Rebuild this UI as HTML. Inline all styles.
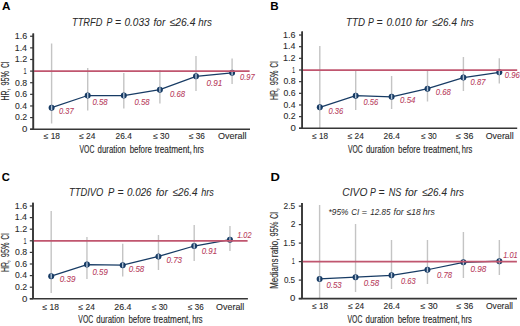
<!DOCTYPE html>
<html><head><meta charset="utf-8"><style>
html,body{margin:0;padding:0;background:#fff;overflow:hidden;}
svg{display:block;}
text{font-family:"Liberation Sans", sans-serif;}
</style></head><body>
<svg width="520" height="326" viewBox="0 0 520 326">
<rect width="520" height="326" fill="#fff"/>
<text x="2.05" y="10.20" font-size="11.6" text-anchor="start" font-weight="bold" font-style="normal" fill="#000" textLength="8.43" lengthAdjust="spacingAndGlyphs">A</text>
<text x="72.07" y="25.60" font-size="11.0" text-anchor="start" font-weight="normal" font-style="italic" fill="#2a2a2a" stroke="#2a2a2a" stroke-width="0.05" textLength="30.33" lengthAdjust="spacingAndGlyphs">TTRFD</text>
<text x="106.48" y="25.60" font-size="11.0" text-anchor="start" font-weight="normal" font-style="italic" fill="#2a2a2a" stroke="#2a2a2a" stroke-width="0.05" textLength="5.84" lengthAdjust="spacingAndGlyphs">P</text>
<text x="115.07" y="25.60" font-size="11.0" text-anchor="start" font-weight="normal" font-style="italic" fill="#2a2a2a" stroke="#2a2a2a" stroke-width="0.05" textLength="6.06" lengthAdjust="spacingAndGlyphs">=</text>
<text x="124.47" y="25.60" font-size="11.0" text-anchor="start" font-weight="normal" font-style="italic" fill="#2a2a2a" stroke="#2a2a2a" stroke-width="0.05" textLength="25.20" lengthAdjust="spacingAndGlyphs">0.033</text>
<text x="153.58" y="25.60" font-size="11.0" text-anchor="start" font-weight="normal" font-style="italic" fill="#2a2a2a" stroke="#2a2a2a" stroke-width="0.05" textLength="11.67" lengthAdjust="spacingAndGlyphs">for</text>
<text x="169.59" y="25.60" font-size="11.0" text-anchor="start" font-weight="normal" font-style="italic" fill="#2a2a2a" stroke="#2a2a2a" stroke-width="0.05" textLength="25.90" lengthAdjust="spacingAndGlyphs">≤26.4</text>
<text x="198.23" y="25.60" font-size="11.0" text-anchor="start" font-weight="normal" font-style="italic" fill="#2a2a2a" stroke="#2a2a2a" stroke-width="0.05" textLength="13.56" lengthAdjust="spacingAndGlyphs">hrs</text>
<line x1="51.60" y1="43.50" x2="51.60" y2="123.50" stroke="#c4c4c4" stroke-width="1.4"/>
<line x1="87.70" y1="68.00" x2="87.70" y2="110.40" stroke="#c4c4c4" stroke-width="1.4"/>
<line x1="123.80" y1="73.00" x2="123.80" y2="108.40" stroke="#c4c4c4" stroke-width="1.4"/>
<line x1="159.90" y1="70.00" x2="159.90" y2="103.50" stroke="#c4c4c4" stroke-width="1.4"/>
<line x1="196.00" y1="56.00" x2="196.00" y2="91.00" stroke="#c4c4c4" stroke-width="1.4"/>
<line x1="232.10" y1="58.40" x2="232.10" y2="84.00" stroke="#c4c4c4" stroke-width="1.4"/>
<line x1="33.30" y1="33.50" x2="33.30" y2="129.20" stroke="#363636" stroke-width="1.6"/>
<line x1="30.10" y1="129.20" x2="250.00" y2="129.20" stroke="#363636" stroke-width="1.6"/>
<line x1="30.10" y1="129.20" x2="33.30" y2="129.20" stroke="#363636" stroke-width="1.2"/>
<text x="22.01" y="132.00" font-size="8.4" text-anchor="start" font-weight="normal" font-style="normal" fill="#2a2a2a" stroke="#2a2a2a" stroke-width="0.08" textLength="5.36" lengthAdjust="spacingAndGlyphs">0</text>
<line x1="30.10" y1="117.58" x2="33.30" y2="117.58" stroke="#363636" stroke-width="1.2"/>
<text x="15.05" y="120.38" font-size="8.4" text-anchor="start" font-weight="normal" font-style="normal" fill="#2a2a2a" stroke="#2a2a2a" stroke-width="0.08" textLength="12.19" lengthAdjust="spacingAndGlyphs">0.2</text>
<line x1="30.10" y1="105.96" x2="33.30" y2="105.96" stroke="#363636" stroke-width="1.2"/>
<text x="15.06" y="108.76" font-size="8.4" text-anchor="start" font-weight="normal" font-style="normal" fill="#2a2a2a" stroke="#2a2a2a" stroke-width="0.08" textLength="11.98" lengthAdjust="spacingAndGlyphs">0.4</text>
<line x1="30.10" y1="94.34" x2="33.30" y2="94.34" stroke="#363636" stroke-width="1.2"/>
<text x="15.05" y="97.14" font-size="8.4" text-anchor="start" font-weight="normal" font-style="normal" fill="#2a2a2a" stroke="#2a2a2a" stroke-width="0.08" textLength="12.12" lengthAdjust="spacingAndGlyphs">0.6</text>
<line x1="30.10" y1="82.72" x2="33.30" y2="82.72" stroke="#363636" stroke-width="1.2"/>
<text x="15.05" y="85.52" font-size="8.4" text-anchor="start" font-weight="normal" font-style="normal" fill="#2a2a2a" stroke="#2a2a2a" stroke-width="0.08" textLength="12.12" lengthAdjust="spacingAndGlyphs">0.8</text>
<line x1="30.10" y1="71.10" x2="33.30" y2="71.10" stroke="#363636" stroke-width="1.2"/>
<text x="23.59" y="73.90" font-size="8.4" text-anchor="start" font-weight="normal" font-style="normal" fill="#2a2a2a" stroke="#2a2a2a" stroke-width="0.08" textLength="3.08" lengthAdjust="spacingAndGlyphs">1</text>
<line x1="30.10" y1="59.48" x2="33.30" y2="59.48" stroke="#363636" stroke-width="1.2"/>
<text x="14.72" y="62.28" font-size="8.4" text-anchor="start" font-weight="normal" font-style="normal" fill="#2a2a2a" stroke="#2a2a2a" stroke-width="0.08" textLength="12.53" lengthAdjust="spacingAndGlyphs">1.2</text>
<line x1="30.10" y1="47.86" x2="33.30" y2="47.86" stroke="#363636" stroke-width="1.2"/>
<text x="14.74" y="50.66" font-size="8.4" text-anchor="start" font-weight="normal" font-style="normal" fill="#2a2a2a" stroke="#2a2a2a" stroke-width="0.08" textLength="12.31" lengthAdjust="spacingAndGlyphs">1.4</text>
<line x1="30.10" y1="36.24" x2="33.30" y2="36.24" stroke="#363636" stroke-width="1.2"/>
<text x="14.73" y="39.04" font-size="8.4" text-anchor="start" font-weight="normal" font-style="normal" fill="#2a2a2a" stroke="#2a2a2a" stroke-width="0.08" textLength="12.45" lengthAdjust="spacingAndGlyphs">1.6</text>
<polyline points="51.60,107.70 87.70,95.50 123.80,95.50 159.90,89.69 196.00,76.33 232.10,72.84" fill="none" stroke="#173b64" stroke-width="1.25"/>
<circle cx="51.60" cy="107.70" r="3.0" fill="#173b64"/>
<line x1="51.60" y1="105.30" x2="51.60" y2="110.10" stroke="#b2c4d8" stroke-width="1.4"/>
<circle cx="87.70" cy="95.50" r="3.0" fill="#173b64"/>
<line x1="87.70" y1="93.10" x2="87.70" y2="97.90" stroke="#b2c4d8" stroke-width="1.4"/>
<circle cx="123.80" cy="95.50" r="3.0" fill="#173b64"/>
<line x1="123.80" y1="93.10" x2="123.80" y2="97.90" stroke="#b2c4d8" stroke-width="1.4"/>
<circle cx="159.90" cy="89.69" r="3.0" fill="#173b64"/>
<line x1="159.90" y1="87.29" x2="159.90" y2="92.09" stroke="#b2c4d8" stroke-width="1.4"/>
<circle cx="196.00" cy="76.33" r="3.0" fill="#173b64"/>
<line x1="196.00" y1="73.93" x2="196.00" y2="78.73" stroke="#b2c4d8" stroke-width="1.4"/>
<circle cx="232.10" cy="72.84" r="3.0" fill="#173b64"/>
<line x1="232.10" y1="70.44" x2="232.10" y2="75.24" stroke="#b2c4d8" stroke-width="1.4"/>
<line x1="33.30" y1="71.10" x2="249.60" y2="71.10" stroke="#c0566f" stroke-width="1.75"/>
<line x1="33.30" y1="33.50" x2="33.30" y2="129.20" stroke="#363636" stroke-width="1.6"/>
<text x="59.08" y="113.60" font-size="8.4" text-anchor="start" font-weight="normal" font-style="italic" fill="#b83d5d" stroke="#b83d5d" stroke-width="0.08" textLength="14.69" lengthAdjust="spacingAndGlyphs">0.37</text>
<text x="92.47" y="104.60" font-size="8.4" text-anchor="start" font-weight="normal" font-style="italic" fill="#b83d5d" stroke="#b83d5d" stroke-width="0.08" textLength="15.18" lengthAdjust="spacingAndGlyphs">0.58</text>
<text x="134.57" y="105.00" font-size="8.4" text-anchor="start" font-weight="normal" font-style="italic" fill="#b83d5d" stroke="#b83d5d" stroke-width="0.08" textLength="15.08" lengthAdjust="spacingAndGlyphs">0.58</text>
<text x="170.07" y="96.50" font-size="8.4" text-anchor="start" font-weight="normal" font-style="italic" fill="#b83d5d" stroke="#b83d5d" stroke-width="0.08" textLength="15.08" lengthAdjust="spacingAndGlyphs">0.68</text>
<text x="206.45" y="85.60" font-size="8.4" text-anchor="start" font-weight="normal" font-style="italic" fill="#b83d5d" stroke="#b83d5d" stroke-width="0.08" textLength="15.83" lengthAdjust="spacingAndGlyphs">0.91</text>
<text x="240.08" y="80.00" font-size="8.4" text-anchor="start" font-weight="normal" font-style="italic" fill="#b83d5d" stroke="#b83d5d" stroke-width="0.08" textLength="14.69" lengthAdjust="spacingAndGlyphs">0.97</text>
<text x="43.75" y="139.00" font-size="8.4" text-anchor="start" font-weight="normal" font-style="normal" fill="#2a2a2a" stroke="#2a2a2a" stroke-width="0.1" textLength="16.22" lengthAdjust="spacingAndGlyphs">≤ 18</text>
<text x="79.15" y="139.00" font-size="8.4" text-anchor="start" font-weight="normal" font-style="normal" fill="#2a2a2a" stroke="#2a2a2a" stroke-width="0.1" textLength="16.30" lengthAdjust="spacingAndGlyphs">≤ 24</text>
<text x="115.58" y="139.00" font-size="8.4" text-anchor="start" font-weight="normal" font-style="normal" fill="#2a2a2a" stroke="#2a2a2a" stroke-width="0.1" textLength="16.26" lengthAdjust="spacingAndGlyphs">26.4</text>
<text x="153.15" y="139.00" font-size="8.4" text-anchor="start" font-weight="normal" font-style="normal" fill="#2a2a2a" stroke="#2a2a2a" stroke-width="0.1" textLength="16.28" lengthAdjust="spacingAndGlyphs">≤ 30</text>
<text x="188.95" y="139.00" font-size="8.4" text-anchor="start" font-weight="normal" font-style="normal" fill="#2a2a2a" stroke="#2a2a2a" stroke-width="0.1" textLength="16.01" lengthAdjust="spacingAndGlyphs">≤ 36</text>
<text x="217.97" y="139.00" font-size="8.4" text-anchor="start" font-weight="normal" font-style="normal" fill="#2a2a2a" stroke="#2a2a2a" stroke-width="0.1" textLength="28.54" lengthAdjust="spacingAndGlyphs">Overall</text>
<text x="79.57" y="153.00" font-size="10.0" text-anchor="start" font-weight="normal" font-style="normal" fill="#2a2a2a" stroke="#2a2a2a" stroke-width="0.14" textLength="14.79" lengthAdjust="spacingAndGlyphs">VOC</text>
<text x="97.57" y="153.00" font-size="10.0" text-anchor="start" font-weight="normal" font-style="normal" fill="#2a2a2a" stroke="#2a2a2a" stroke-width="0.14" textLength="28.33" lengthAdjust="spacingAndGlyphs">duration</text>
<text x="129.69" y="153.00" font-size="10.0" text-anchor="start" font-weight="normal" font-style="normal" fill="#2a2a2a" stroke="#2a2a2a" stroke-width="0.14" textLength="22.25" lengthAdjust="spacingAndGlyphs">before</text>
<text x="154.78" y="153.00" font-size="10.0" text-anchor="start" font-weight="normal" font-style="normal" fill="#2a2a2a" stroke="#2a2a2a" stroke-width="0.14" textLength="37.06" lengthAdjust="spacingAndGlyphs">treatment,</text>
<text x="193.37" y="153.00" font-size="10.0" text-anchor="start" font-weight="normal" font-style="normal" fill="#2a2a2a" stroke="#2a2a2a" stroke-width="0.14" textLength="10.49" lengthAdjust="spacingAndGlyphs">hrs</text>
<g transform="translate(9.20,100.30) rotate(-90)"><text x="-0.17" y="0.00" font-size="10.0" text-anchor="start" font-weight="normal" font-style="normal" fill="#2a2a2a" stroke="#2a2a2a" stroke-width="0.12" textLength="11.89" lengthAdjust="spacingAndGlyphs">HR,</text>
<text x="14.75" y="0.00" font-size="10.0" text-anchor="start" font-weight="normal" font-style="normal" fill="#2a2a2a" stroke="#2a2a2a" stroke-width="0.12" textLength="14.59" lengthAdjust="spacingAndGlyphs">95%</text>
<text x="32.52" y="0.00" font-size="10.0" text-anchor="start" font-weight="normal" font-style="normal" fill="#2a2a2a" stroke="#2a2a2a" stroke-width="0.12" textLength="6.12" lengthAdjust="spacingAndGlyphs">CI</text></g>
<text x="270.32" y="10.20" font-size="11.6" text-anchor="start" font-weight="bold" font-style="normal" fill="#000" textLength="8.39" lengthAdjust="spacingAndGlyphs">B</text>
<text x="346.03" y="25.80" font-size="11.0" text-anchor="start" font-weight="normal" font-style="italic" fill="#2a2a2a" stroke="#2a2a2a" stroke-width="0.05" textLength="18.88" lengthAdjust="spacingAndGlyphs">TTD</text>
<text x="367.98" y="25.80" font-size="11.0" text-anchor="start" font-weight="normal" font-style="italic" fill="#2a2a2a" stroke="#2a2a2a" stroke-width="0.05" textLength="5.84" lengthAdjust="spacingAndGlyphs">P</text>
<text x="376.57" y="25.80" font-size="11.0" text-anchor="start" font-weight="normal" font-style="italic" fill="#2a2a2a" stroke="#2a2a2a" stroke-width="0.05" textLength="6.06" lengthAdjust="spacingAndGlyphs">=</text>
<text x="386.47" y="25.80" font-size="11.0" text-anchor="start" font-weight="normal" font-style="italic" fill="#2a2a2a" stroke="#2a2a2a" stroke-width="0.05" textLength="25.20" lengthAdjust="spacingAndGlyphs">0.010</text>
<text x="415.57" y="25.80" font-size="11.0" text-anchor="start" font-weight="normal" font-style="italic" fill="#2a2a2a" stroke="#2a2a2a" stroke-width="0.05" textLength="11.67" lengthAdjust="spacingAndGlyphs">for</text>
<text x="432.10" y="25.80" font-size="11.0" text-anchor="start" font-weight="normal" font-style="italic" fill="#2a2a2a" stroke="#2a2a2a" stroke-width="0.05" textLength="24.87" lengthAdjust="spacingAndGlyphs">≤26.4</text>
<text x="460.74" y="25.80" font-size="11.0" text-anchor="start" font-weight="normal" font-style="italic" fill="#2a2a2a" stroke="#2a2a2a" stroke-width="0.05" textLength="13.04" lengthAdjust="spacingAndGlyphs">hrs</text>
<line x1="319.80" y1="46.00" x2="319.80" y2="128.30" stroke="#c4c4c4" stroke-width="1.4"/>
<line x1="355.70" y1="71.00" x2="355.70" y2="110.00" stroke="#c4c4c4" stroke-width="1.4"/>
<line x1="391.60" y1="76.00" x2="391.60" y2="109.00" stroke="#c4c4c4" stroke-width="1.4"/>
<line x1="427.50" y1="70.00" x2="427.50" y2="101.50" stroke="#c4c4c4" stroke-width="1.4"/>
<line x1="463.40" y1="57.00" x2="463.40" y2="91.00" stroke="#c4c4c4" stroke-width="1.4"/>
<line x1="499.30" y1="58.30" x2="499.30" y2="83.50" stroke="#c4c4c4" stroke-width="1.4"/>
<line x1="302.20" y1="31.60" x2="302.20" y2="128.30" stroke="#363636" stroke-width="1.6"/>
<line x1="299.00" y1="128.30" x2="517.20" y2="128.30" stroke="#363636" stroke-width="1.6"/>
<line x1="299.00" y1="128.30" x2="302.20" y2="128.30" stroke="#363636" stroke-width="1.2"/>
<text x="290.41" y="131.10" font-size="8.4" text-anchor="start" font-weight="normal" font-style="normal" fill="#2a2a2a" stroke="#2a2a2a" stroke-width="0.08" textLength="5.36" lengthAdjust="spacingAndGlyphs">0</text>
<line x1="299.00" y1="116.64" x2="302.20" y2="116.64" stroke="#363636" stroke-width="1.2"/>
<text x="283.45" y="119.44" font-size="8.4" text-anchor="start" font-weight="normal" font-style="normal" fill="#2a2a2a" stroke="#2a2a2a" stroke-width="0.08" textLength="12.19" lengthAdjust="spacingAndGlyphs">0.2</text>
<line x1="299.00" y1="104.98" x2="302.20" y2="104.98" stroke="#363636" stroke-width="1.2"/>
<text x="283.46" y="107.78" font-size="8.4" text-anchor="start" font-weight="normal" font-style="normal" fill="#2a2a2a" stroke="#2a2a2a" stroke-width="0.08" textLength="11.98" lengthAdjust="spacingAndGlyphs">0.4</text>
<line x1="299.00" y1="93.32" x2="302.20" y2="93.32" stroke="#363636" stroke-width="1.2"/>
<text x="283.45" y="96.12" font-size="8.4" text-anchor="start" font-weight="normal" font-style="normal" fill="#2a2a2a" stroke="#2a2a2a" stroke-width="0.08" textLength="12.12" lengthAdjust="spacingAndGlyphs">0.6</text>
<line x1="299.00" y1="81.66" x2="302.20" y2="81.66" stroke="#363636" stroke-width="1.2"/>
<text x="283.45" y="84.46" font-size="8.4" text-anchor="start" font-weight="normal" font-style="normal" fill="#2a2a2a" stroke="#2a2a2a" stroke-width="0.08" textLength="12.12" lengthAdjust="spacingAndGlyphs">0.8</text>
<line x1="299.00" y1="70.00" x2="302.20" y2="70.00" stroke="#363636" stroke-width="1.2"/>
<text x="291.99" y="72.80" font-size="8.4" text-anchor="start" font-weight="normal" font-style="normal" fill="#2a2a2a" stroke="#2a2a2a" stroke-width="0.08" textLength="3.08" lengthAdjust="spacingAndGlyphs">1</text>
<line x1="299.00" y1="58.34" x2="302.20" y2="58.34" stroke="#363636" stroke-width="1.2"/>
<text x="283.12" y="61.14" font-size="8.4" text-anchor="start" font-weight="normal" font-style="normal" fill="#2a2a2a" stroke="#2a2a2a" stroke-width="0.08" textLength="12.53" lengthAdjust="spacingAndGlyphs">1.2</text>
<line x1="299.00" y1="46.68" x2="302.20" y2="46.68" stroke="#363636" stroke-width="1.2"/>
<text x="283.14" y="49.48" font-size="8.4" text-anchor="start" font-weight="normal" font-style="normal" fill="#2a2a2a" stroke="#2a2a2a" stroke-width="0.08" textLength="12.31" lengthAdjust="spacingAndGlyphs">1.4</text>
<line x1="299.00" y1="35.02" x2="302.20" y2="35.02" stroke="#363636" stroke-width="1.2"/>
<text x="283.13" y="37.82" font-size="8.4" text-anchor="start" font-weight="normal" font-style="normal" fill="#2a2a2a" stroke="#2a2a2a" stroke-width="0.08" textLength="12.45" lengthAdjust="spacingAndGlyphs">1.6</text>
<polyline points="319.80,107.31 355.70,95.65 391.60,96.82 427.50,88.66 463.40,77.58 499.30,72.33" fill="none" stroke="#173b64" stroke-width="1.25"/>
<circle cx="319.80" cy="107.31" r="3.0" fill="#173b64"/>
<line x1="319.80" y1="104.91" x2="319.80" y2="109.71" stroke="#b2c4d8" stroke-width="1.4"/>
<circle cx="355.70" cy="95.65" r="3.0" fill="#173b64"/>
<line x1="355.70" y1="93.25" x2="355.70" y2="98.05" stroke="#b2c4d8" stroke-width="1.4"/>
<circle cx="391.60" cy="96.82" r="3.0" fill="#173b64"/>
<line x1="391.60" y1="94.42" x2="391.60" y2="99.22" stroke="#b2c4d8" stroke-width="1.4"/>
<circle cx="427.50" cy="88.66" r="3.0" fill="#173b64"/>
<line x1="427.50" y1="86.26" x2="427.50" y2="91.06" stroke="#b2c4d8" stroke-width="1.4"/>
<circle cx="463.40" cy="77.58" r="3.0" fill="#173b64"/>
<line x1="463.40" y1="75.18" x2="463.40" y2="79.98" stroke="#b2c4d8" stroke-width="1.4"/>
<circle cx="499.30" cy="72.33" r="3.0" fill="#173b64"/>
<line x1="499.30" y1="69.93" x2="499.30" y2="74.73" stroke="#b2c4d8" stroke-width="1.4"/>
<line x1="302.20" y1="70.00" x2="517.20" y2="70.00" stroke="#c0566f" stroke-width="1.75"/>
<line x1="302.20" y1="31.60" x2="302.20" y2="128.30" stroke="#363636" stroke-width="1.6"/>
<text x="328.48" y="113.60" font-size="8.4" text-anchor="start" font-weight="normal" font-style="italic" fill="#b83d5d" stroke="#b83d5d" stroke-width="0.08" textLength="14.73" lengthAdjust="spacingAndGlyphs">0.36</text>
<text x="363.48" y="105.00" font-size="8.4" text-anchor="start" font-weight="normal" font-style="italic" fill="#b83d5d" stroke="#b83d5d" stroke-width="0.08" textLength="14.73" lengthAdjust="spacingAndGlyphs">0.56</text>
<text x="400.07" y="102.80" font-size="8.4" text-anchor="start" font-weight="normal" font-style="italic" fill="#b83d5d" stroke="#b83d5d" stroke-width="0.08" textLength="15.34" lengthAdjust="spacingAndGlyphs">0.54</text>
<text x="435.87" y="94.50" font-size="8.4" text-anchor="start" font-weight="normal" font-style="italic" fill="#b83d5d" stroke="#b83d5d" stroke-width="0.08" textLength="14.98" lengthAdjust="spacingAndGlyphs">0.68</text>
<text x="470.58" y="85.00" font-size="8.4" text-anchor="start" font-weight="normal" font-style="italic" fill="#b83d5d" stroke="#b83d5d" stroke-width="0.08" textLength="14.79" lengthAdjust="spacingAndGlyphs">0.87</text>
<text x="504.87" y="78.30" font-size="8.4" text-anchor="start" font-weight="normal" font-style="italic" fill="#b83d5d" stroke="#b83d5d" stroke-width="0.08" textLength="15.04" lengthAdjust="spacingAndGlyphs">0.96</text>
<text x="312.16" y="138.70" font-size="8.4" text-anchor="start" font-weight="normal" font-style="normal" fill="#2a2a2a" stroke="#2a2a2a" stroke-width="0.1" textLength="15.80" lengthAdjust="spacingAndGlyphs">≤ 18</text>
<text x="347.75" y="138.70" font-size="8.4" text-anchor="start" font-weight="normal" font-style="normal" fill="#2a2a2a" stroke="#2a2a2a" stroke-width="0.1" textLength="16.09" lengthAdjust="spacingAndGlyphs">≤ 24</text>
<text x="383.58" y="138.70" font-size="8.4" text-anchor="start" font-weight="normal" font-style="normal" fill="#2a2a2a" stroke="#2a2a2a" stroke-width="0.1" textLength="16.26" lengthAdjust="spacingAndGlyphs">26.4</text>
<text x="421.36" y="138.70" font-size="8.4" text-anchor="start" font-weight="normal" font-style="normal" fill="#2a2a2a" stroke="#2a2a2a" stroke-width="0.1" textLength="15.45" lengthAdjust="spacingAndGlyphs">≤ 30</text>
<text x="456.13" y="138.70" font-size="8.4" text-anchor="start" font-weight="normal" font-style="normal" fill="#2a2a2a" stroke="#2a2a2a" stroke-width="0.1" textLength="17.26" lengthAdjust="spacingAndGlyphs">≤ 36</text>
<text x="485.78" y="138.70" font-size="8.4" text-anchor="start" font-weight="normal" font-style="normal" fill="#2a2a2a" stroke="#2a2a2a" stroke-width="0.1" textLength="27.91" lengthAdjust="spacingAndGlyphs">Overall</text>
<text x="347.97" y="152.60" font-size="10.0" text-anchor="start" font-weight="normal" font-style="normal" fill="#2a2a2a" stroke="#2a2a2a" stroke-width="0.14" textLength="14.79" lengthAdjust="spacingAndGlyphs">VOC</text>
<text x="365.97" y="152.60" font-size="10.0" text-anchor="start" font-weight="normal" font-style="normal" fill="#2a2a2a" stroke="#2a2a2a" stroke-width="0.14" textLength="28.33" lengthAdjust="spacingAndGlyphs">duration</text>
<text x="398.09" y="152.60" font-size="10.0" text-anchor="start" font-weight="normal" font-style="normal" fill="#2a2a2a" stroke="#2a2a2a" stroke-width="0.14" textLength="22.25" lengthAdjust="spacingAndGlyphs">before</text>
<text x="423.18" y="152.60" font-size="10.0" text-anchor="start" font-weight="normal" font-style="normal" fill="#2a2a2a" stroke="#2a2a2a" stroke-width="0.14" textLength="37.06" lengthAdjust="spacingAndGlyphs">treatment,</text>
<text x="461.77" y="152.60" font-size="10.0" text-anchor="start" font-weight="normal" font-style="normal" fill="#2a2a2a" stroke="#2a2a2a" stroke-width="0.14" textLength="10.49" lengthAdjust="spacingAndGlyphs">hrs</text>
<g transform="translate(278.00,99.90) rotate(-90)"><text x="-0.17" y="0.00" font-size="10.0" text-anchor="start" font-weight="normal" font-style="normal" fill="#2a2a2a" stroke="#2a2a2a" stroke-width="0.12" textLength="11.89" lengthAdjust="spacingAndGlyphs">HR,</text>
<text x="14.75" y="0.00" font-size="10.0" text-anchor="start" font-weight="normal" font-style="normal" fill="#2a2a2a" stroke="#2a2a2a" stroke-width="0.12" textLength="14.59" lengthAdjust="spacingAndGlyphs">95%</text>
<text x="32.52" y="0.00" font-size="10.0" text-anchor="start" font-weight="normal" font-style="normal" fill="#2a2a2a" stroke="#2a2a2a" stroke-width="0.12" textLength="6.12" lengthAdjust="spacingAndGlyphs">CI</text></g>
<text x="1.87" y="180.60" font-size="11.6" text-anchor="start" font-weight="bold" font-style="normal" fill="#000" textLength="8.11" lengthAdjust="spacingAndGlyphs">C</text>
<text x="69.06" y="196.30" font-size="11.0" text-anchor="start" font-weight="normal" font-style="italic" fill="#2a2a2a" stroke="#2a2a2a" stroke-width="0.05" textLength="34.29" lengthAdjust="spacingAndGlyphs">TTDIVO</text>
<text x="107.98" y="196.30" font-size="11.0" text-anchor="start" font-weight="normal" font-style="italic" fill="#2a2a2a" stroke="#2a2a2a" stroke-width="0.05" textLength="6.33" lengthAdjust="spacingAndGlyphs">P</text>
<text x="117.57" y="196.30" font-size="11.0" text-anchor="start" font-weight="normal" font-style="italic" fill="#2a2a2a" stroke="#2a2a2a" stroke-width="0.05" textLength="6.06" lengthAdjust="spacingAndGlyphs">=</text>
<text x="126.98" y="196.30" font-size="11.0" text-anchor="start" font-weight="normal" font-style="italic" fill="#2a2a2a" stroke="#2a2a2a" stroke-width="0.05" textLength="24.62" lengthAdjust="spacingAndGlyphs">0.026</text>
<text x="156.08" y="196.30" font-size="11.0" text-anchor="start" font-weight="normal" font-style="italic" fill="#2a2a2a" stroke="#2a2a2a" stroke-width="0.05" textLength="11.67" lengthAdjust="spacingAndGlyphs">for</text>
<text x="172.60" y="196.30" font-size="11.0" text-anchor="start" font-weight="normal" font-style="italic" fill="#2a2a2a" stroke="#2a2a2a" stroke-width="0.05" textLength="24.87" lengthAdjust="spacingAndGlyphs">≤26.4</text>
<text x="201.24" y="196.30" font-size="11.0" text-anchor="start" font-weight="normal" font-style="italic" fill="#2a2a2a" stroke="#2a2a2a" stroke-width="0.05" textLength="12.53" lengthAdjust="spacingAndGlyphs">hrs</text>
<line x1="51.20" y1="211.00" x2="51.20" y2="293.00" stroke="#c4c4c4" stroke-width="1.4"/>
<line x1="86.95" y1="237.00" x2="86.95" y2="279.00" stroke="#c4c4c4" stroke-width="1.4"/>
<line x1="122.70" y1="243.80" x2="122.70" y2="276.40" stroke="#c4c4c4" stroke-width="1.4"/>
<line x1="158.45" y1="235.00" x2="158.45" y2="270.00" stroke="#c4c4c4" stroke-width="1.4"/>
<line x1="194.20" y1="225.00" x2="194.20" y2="261.00" stroke="#c4c4c4" stroke-width="1.4"/>
<line x1="229.95" y1="226.00" x2="229.95" y2="251.00" stroke="#c4c4c4" stroke-width="1.4"/>
<line x1="33.00" y1="202.80" x2="33.00" y2="298.80" stroke="#363636" stroke-width="1.6"/>
<line x1="29.80" y1="298.80" x2="247.90" y2="298.80" stroke="#363636" stroke-width="1.6"/>
<line x1="29.80" y1="298.80" x2="33.00" y2="298.80" stroke="#363636" stroke-width="1.2"/>
<text x="22.01" y="301.60" font-size="8.4" text-anchor="start" font-weight="normal" font-style="normal" fill="#2a2a2a" stroke="#2a2a2a" stroke-width="0.08" textLength="5.36" lengthAdjust="spacingAndGlyphs">0</text>
<line x1="29.80" y1="287.20" x2="33.00" y2="287.20" stroke="#363636" stroke-width="1.2"/>
<text x="15.05" y="290.00" font-size="8.4" text-anchor="start" font-weight="normal" font-style="normal" fill="#2a2a2a" stroke="#2a2a2a" stroke-width="0.08" textLength="12.19" lengthAdjust="spacingAndGlyphs">0.2</text>
<line x1="29.80" y1="275.60" x2="33.00" y2="275.60" stroke="#363636" stroke-width="1.2"/>
<text x="15.06" y="278.40" font-size="8.4" text-anchor="start" font-weight="normal" font-style="normal" fill="#2a2a2a" stroke="#2a2a2a" stroke-width="0.08" textLength="11.98" lengthAdjust="spacingAndGlyphs">0.4</text>
<line x1="29.80" y1="264.00" x2="33.00" y2="264.00" stroke="#363636" stroke-width="1.2"/>
<text x="15.05" y="266.80" font-size="8.4" text-anchor="start" font-weight="normal" font-style="normal" fill="#2a2a2a" stroke="#2a2a2a" stroke-width="0.08" textLength="12.12" lengthAdjust="spacingAndGlyphs">0.6</text>
<line x1="29.80" y1="252.40" x2="33.00" y2="252.40" stroke="#363636" stroke-width="1.2"/>
<text x="15.05" y="255.20" font-size="8.4" text-anchor="start" font-weight="normal" font-style="normal" fill="#2a2a2a" stroke="#2a2a2a" stroke-width="0.08" textLength="12.12" lengthAdjust="spacingAndGlyphs">0.8</text>
<line x1="29.80" y1="240.80" x2="33.00" y2="240.80" stroke="#363636" stroke-width="1.2"/>
<text x="23.59" y="243.60" font-size="8.4" text-anchor="start" font-weight="normal" font-style="normal" fill="#2a2a2a" stroke="#2a2a2a" stroke-width="0.08" textLength="3.08" lengthAdjust="spacingAndGlyphs">1</text>
<line x1="29.80" y1="229.20" x2="33.00" y2="229.20" stroke="#363636" stroke-width="1.2"/>
<text x="14.72" y="232.00" font-size="8.4" text-anchor="start" font-weight="normal" font-style="normal" fill="#2a2a2a" stroke="#2a2a2a" stroke-width="0.08" textLength="12.53" lengthAdjust="spacingAndGlyphs">1.2</text>
<line x1="29.80" y1="217.60" x2="33.00" y2="217.60" stroke="#363636" stroke-width="1.2"/>
<text x="14.74" y="220.40" font-size="8.4" text-anchor="start" font-weight="normal" font-style="normal" fill="#2a2a2a" stroke="#2a2a2a" stroke-width="0.08" textLength="12.31" lengthAdjust="spacingAndGlyphs">1.4</text>
<line x1="29.80" y1="206.00" x2="33.00" y2="206.00" stroke="#363636" stroke-width="1.2"/>
<text x="14.73" y="208.80" font-size="8.4" text-anchor="start" font-weight="normal" font-style="normal" fill="#2a2a2a" stroke="#2a2a2a" stroke-width="0.08" textLength="12.45" lengthAdjust="spacingAndGlyphs">1.6</text>
<polyline points="51.20,276.18 86.95,264.58 122.70,265.16 158.45,256.46 194.20,246.02 229.95,239.64" fill="none" stroke="#173b64" stroke-width="1.25"/>
<circle cx="51.20" cy="276.18" r="3.0" fill="#173b64"/>
<line x1="51.20" y1="273.78" x2="51.20" y2="278.58" stroke="#b2c4d8" stroke-width="1.4"/>
<circle cx="86.95" cy="264.58" r="3.0" fill="#173b64"/>
<line x1="86.95" y1="262.18" x2="86.95" y2="266.98" stroke="#b2c4d8" stroke-width="1.4"/>
<circle cx="122.70" cy="265.16" r="3.0" fill="#173b64"/>
<line x1="122.70" y1="262.76" x2="122.70" y2="267.56" stroke="#b2c4d8" stroke-width="1.4"/>
<circle cx="158.45" cy="256.46" r="3.0" fill="#173b64"/>
<line x1="158.45" y1="254.06" x2="158.45" y2="258.86" stroke="#b2c4d8" stroke-width="1.4"/>
<circle cx="194.20" cy="246.02" r="3.0" fill="#173b64"/>
<line x1="194.20" y1="243.62" x2="194.20" y2="248.42" stroke="#b2c4d8" stroke-width="1.4"/>
<circle cx="229.95" cy="239.64" r="3.0" fill="#173b64"/>
<line x1="229.95" y1="237.24" x2="229.95" y2="242.04" stroke="#b2c4d8" stroke-width="1.4"/>
<line x1="33.00" y1="240.80" x2="247.60" y2="240.80" stroke="#c0566f" stroke-width="1.75"/>
<line x1="33.00" y1="202.80" x2="33.00" y2="298.80" stroke="#363636" stroke-width="1.6"/>
<text x="59.66" y="282.40" font-size="8.4" text-anchor="start" font-weight="normal" font-style="italic" fill="#b83d5d" stroke="#b83d5d" stroke-width="0.08" textLength="15.72" lengthAdjust="spacingAndGlyphs">0.39</text>
<text x="92.47" y="275.00" font-size="8.4" text-anchor="start" font-weight="normal" font-style="italic" fill="#b83d5d" stroke="#b83d5d" stroke-width="0.08" textLength="15.30" lengthAdjust="spacingAndGlyphs">0.59</text>
<text x="128.76" y="272.10" font-size="8.4" text-anchor="start" font-weight="normal" font-style="italic" fill="#b83d5d" stroke="#b83d5d" stroke-width="0.08" textLength="15.49" lengthAdjust="spacingAndGlyphs">0.58</text>
<text x="166.46" y="263.00" font-size="8.4" text-anchor="start" font-weight="normal" font-style="italic" fill="#b83d5d" stroke="#b83d5d" stroke-width="0.08" textLength="15.61" lengthAdjust="spacingAndGlyphs">0.73</text>
<text x="201.66" y="253.60" font-size="8.4" text-anchor="start" font-weight="normal" font-style="italic" fill="#b83d5d" stroke="#b83d5d" stroke-width="0.08" textLength="15.40" lengthAdjust="spacingAndGlyphs">0.91</text>
<text x="237.22" y="237.60" font-size="8.4" text-anchor="start" font-weight="normal" font-style="italic" fill="#b83d5d" stroke="#b83d5d" stroke-width="0.08" textLength="14.29" lengthAdjust="spacingAndGlyphs">1.02</text>
<text x="42.55" y="309.80" font-size="8.4" text-anchor="start" font-weight="normal" font-style="normal" fill="#2a2a2a" stroke="#2a2a2a" stroke-width="0.1" textLength="16.43" lengthAdjust="spacingAndGlyphs">≤ 18</text>
<text x="78.55" y="309.80" font-size="8.4" text-anchor="start" font-weight="normal" font-style="normal" fill="#2a2a2a" stroke="#2a2a2a" stroke-width="0.1" textLength="16.30" lengthAdjust="spacingAndGlyphs">≤ 24</text>
<text x="114.26" y="309.80" font-size="8.4" text-anchor="start" font-weight="normal" font-style="normal" fill="#2a2a2a" stroke="#2a2a2a" stroke-width="0.1" textLength="17.20" lengthAdjust="spacingAndGlyphs">26.4</text>
<text x="151.96" y="309.80" font-size="8.4" text-anchor="start" font-weight="normal" font-style="normal" fill="#2a2a2a" stroke="#2a2a2a" stroke-width="0.1" textLength="15.66" lengthAdjust="spacingAndGlyphs">≤ 30</text>
<text x="188.06" y="309.80" font-size="8.4" text-anchor="start" font-weight="normal" font-style="normal" fill="#2a2a2a" stroke="#2a2a2a" stroke-width="0.1" textLength="15.60" lengthAdjust="spacingAndGlyphs">≤ 36</text>
<text x="216.08" y="309.80" font-size="8.4" text-anchor="start" font-weight="normal" font-style="normal" fill="#2a2a2a" stroke="#2a2a2a" stroke-width="0.1" textLength="28.23" lengthAdjust="spacingAndGlyphs">Overall</text>
<text x="78.37" y="323.30" font-size="10.0" text-anchor="start" font-weight="normal" font-style="normal" fill="#2a2a2a" stroke="#2a2a2a" stroke-width="0.14" textLength="14.79" lengthAdjust="spacingAndGlyphs">VOC</text>
<text x="96.37" y="323.30" font-size="10.0" text-anchor="start" font-weight="normal" font-style="normal" fill="#2a2a2a" stroke="#2a2a2a" stroke-width="0.14" textLength="28.33" lengthAdjust="spacingAndGlyphs">duration</text>
<text x="128.49" y="323.30" font-size="10.0" text-anchor="start" font-weight="normal" font-style="normal" fill="#2a2a2a" stroke="#2a2a2a" stroke-width="0.14" textLength="22.25" lengthAdjust="spacingAndGlyphs">before</text>
<text x="153.58" y="323.30" font-size="10.0" text-anchor="start" font-weight="normal" font-style="normal" fill="#2a2a2a" stroke="#2a2a2a" stroke-width="0.14" textLength="37.06" lengthAdjust="spacingAndGlyphs">treatment,</text>
<text x="192.17" y="323.30" font-size="10.0" text-anchor="start" font-weight="normal" font-style="normal" fill="#2a2a2a" stroke="#2a2a2a" stroke-width="0.14" textLength="10.49" lengthAdjust="spacingAndGlyphs">hrs</text>
<g transform="translate(8.90,271.90) rotate(-90)"><text x="-0.17" y="0.00" font-size="10.0" text-anchor="start" font-weight="normal" font-style="normal" fill="#2a2a2a" stroke="#2a2a2a" stroke-width="0.12" textLength="11.89" lengthAdjust="spacingAndGlyphs">HR,</text>
<text x="14.75" y="0.00" font-size="10.0" text-anchor="start" font-weight="normal" font-style="normal" fill="#2a2a2a" stroke="#2a2a2a" stroke-width="0.12" textLength="14.59" lengthAdjust="spacingAndGlyphs">95%</text>
<text x="32.52" y="0.00" font-size="10.0" text-anchor="start" font-weight="normal" font-style="normal" fill="#2a2a2a" stroke="#2a2a2a" stroke-width="0.12" textLength="6.12" lengthAdjust="spacingAndGlyphs">CI</text></g>
<text x="270.47" y="181.40" font-size="11.6" text-anchor="start" font-weight="bold" font-style="normal" fill="#000" textLength="9.33" lengthAdjust="spacingAndGlyphs">D</text>
<text x="342.34" y="196.30" font-size="11.0" text-anchor="start" font-weight="normal" font-style="italic" fill="#2a2a2a" stroke="#2a2a2a" stroke-width="0.05" textLength="25.04" lengthAdjust="spacingAndGlyphs">CIVO</text>
<text x="369.98" y="196.30" font-size="11.0" text-anchor="start" font-weight="normal" font-style="italic" fill="#2a2a2a" stroke="#2a2a2a" stroke-width="0.05" textLength="5.84" lengthAdjust="spacingAndGlyphs">P</text>
<text x="378.57" y="196.30" font-size="11.0" text-anchor="start" font-weight="normal" font-style="italic" fill="#2a2a2a" stroke="#2a2a2a" stroke-width="0.05" textLength="6.06" lengthAdjust="spacingAndGlyphs">=</text>
<text x="388.63" y="196.30" font-size="11.0" text-anchor="start" font-weight="normal" font-style="italic" fill="#2a2a2a" stroke="#2a2a2a" stroke-width="0.05" textLength="12.58" lengthAdjust="spacingAndGlyphs">NS</text>
<text x="405.06" y="196.30" font-size="11.0" text-anchor="start" font-weight="normal" font-style="italic" fill="#2a2a2a" stroke="#2a2a2a" stroke-width="0.05" textLength="12.17" lengthAdjust="spacingAndGlyphs">for</text>
<text x="422.10" y="196.30" font-size="11.0" text-anchor="start" font-weight="normal" font-style="italic" fill="#2a2a2a" stroke="#2a2a2a" stroke-width="0.05" textLength="24.87" lengthAdjust="spacingAndGlyphs">≤26.4</text>
<text x="450.23" y="196.30" font-size="11.0" text-anchor="start" font-weight="normal" font-style="italic" fill="#2a2a2a" stroke="#2a2a2a" stroke-width="0.05" textLength="13.56" lengthAdjust="spacingAndGlyphs">hrs</text>
<text x="328.60" y="214.60" font-size="9.0" text-anchor="start" font-weight="normal" font-style="italic" fill="#2a2a2a" textLength="19.94" lengthAdjust="spacingAndGlyphs">*95%</text>
<text x="351.19" y="214.60" font-size="9.0" text-anchor="start" font-weight="normal" font-style="italic" fill="#2a2a2a" textLength="7.97" lengthAdjust="spacingAndGlyphs">CI</text>
<text x="361.61" y="214.60" font-size="9.0" text-anchor="start" font-weight="normal" font-style="italic" fill="#2a2a2a" textLength="5.51" lengthAdjust="spacingAndGlyphs">=</text>
<text x="370.20" y="214.60" font-size="9.0" text-anchor="start" font-weight="normal" font-style="italic" fill="#2a2a2a" textLength="20.18" lengthAdjust="spacingAndGlyphs">12.85</text>
<text x="393.62" y="214.60" font-size="9.0" text-anchor="start" font-weight="normal" font-style="italic" fill="#2a2a2a" textLength="10.17" lengthAdjust="spacingAndGlyphs">for</text>
<text x="406.65" y="214.60" font-size="9.0" text-anchor="start" font-weight="normal" font-style="italic" fill="#2a2a2a" textLength="14.00" lengthAdjust="spacingAndGlyphs">≤18</text>
<text x="422.75" y="214.60" font-size="9.0" text-anchor="start" font-weight="normal" font-style="italic" fill="#2a2a2a" textLength="12.02" lengthAdjust="spacingAndGlyphs">hrs</text>
<line x1="319.60" y1="205.00" x2="319.60" y2="298.60" stroke="#c4c4c4" stroke-width="1.4"/>
<line x1="355.55" y1="224.00" x2="355.55" y2="292.00" stroke="#c4c4c4" stroke-width="1.4"/>
<line x1="391.50" y1="240.00" x2="391.50" y2="289.00" stroke="#c4c4c4" stroke-width="1.4"/>
<line x1="427.45" y1="240.00" x2="427.45" y2="284.00" stroke="#c4c4c4" stroke-width="1.4"/>
<line x1="463.40" y1="232.00" x2="463.40" y2="278.00" stroke="#c4c4c4" stroke-width="1.4"/>
<line x1="499.35" y1="240.00" x2="499.35" y2="275.00" stroke="#c4c4c4" stroke-width="1.4"/>
<line x1="302.00" y1="203.00" x2="302.00" y2="298.60" stroke="#363636" stroke-width="1.6"/>
<line x1="298.80" y1="298.60" x2="517.00" y2="298.60" stroke="#363636" stroke-width="1.6"/>
<line x1="298.80" y1="298.60" x2="302.00" y2="298.60" stroke="#363636" stroke-width="1.2"/>
<text x="290.01" y="301.40" font-size="8.4" text-anchor="start" font-weight="normal" font-style="normal" fill="#2a2a2a" stroke="#2a2a2a" stroke-width="0.08" textLength="5.36" lengthAdjust="spacingAndGlyphs">0</text>
<line x1="298.80" y1="280.10" x2="302.00" y2="280.10" stroke="#363636" stroke-width="1.2"/>
<text x="283.88" y="282.90" font-size="8.4" text-anchor="start" font-weight="normal" font-style="normal" fill="#2a2a2a" stroke="#2a2a2a" stroke-width="0.08" textLength="11.25" lengthAdjust="spacingAndGlyphs">0.5</text>
<line x1="298.80" y1="261.60" x2="302.00" y2="261.60" stroke="#363636" stroke-width="1.2"/>
<text x="291.69" y="264.40" font-size="8.4" text-anchor="start" font-weight="normal" font-style="normal" fill="#2a2a2a" stroke="#2a2a2a" stroke-width="0.08" textLength="3.08" lengthAdjust="spacingAndGlyphs">1</text>
<line x1="298.80" y1="243.10" x2="302.00" y2="243.10" stroke="#363636" stroke-width="1.2"/>
<text x="283.36" y="245.90" font-size="8.4" text-anchor="start" font-weight="normal" font-style="normal" fill="#2a2a2a" stroke="#2a2a2a" stroke-width="0.08" textLength="11.78" lengthAdjust="spacingAndGlyphs">1.5</text>
<line x1="298.80" y1="224.60" x2="302.00" y2="224.60" stroke="#363636" stroke-width="1.2"/>
<text x="290.74" y="227.40" font-size="8.4" text-anchor="start" font-weight="normal" font-style="normal" fill="#2a2a2a" stroke="#2a2a2a" stroke-width="0.08" textLength="4.72" lengthAdjust="spacingAndGlyphs">2</text>
<line x1="298.80" y1="206.10" x2="302.00" y2="206.10" stroke="#363636" stroke-width="1.2"/>
<text x="283.58" y="208.90" font-size="8.4" text-anchor="start" font-weight="normal" font-style="normal" fill="#2a2a2a" stroke="#2a2a2a" stroke-width="0.08" textLength="11.55" lengthAdjust="spacingAndGlyphs">2.5</text>
<polyline points="319.60,278.99 355.55,277.14 391.50,275.29 427.45,269.74 463.40,262.34 499.35,261.23" fill="none" stroke="#173b64" stroke-width="1.25"/>
<circle cx="319.60" cy="278.99" r="3.0" fill="#173b64"/>
<line x1="319.60" y1="276.59" x2="319.60" y2="281.39" stroke="#b2c4d8" stroke-width="1.4"/>
<circle cx="355.55" cy="277.14" r="3.0" fill="#173b64"/>
<line x1="355.55" y1="274.74" x2="355.55" y2="279.54" stroke="#b2c4d8" stroke-width="1.4"/>
<circle cx="391.50" cy="275.29" r="3.0" fill="#173b64"/>
<line x1="391.50" y1="272.89" x2="391.50" y2="277.69" stroke="#b2c4d8" stroke-width="1.4"/>
<circle cx="427.45" cy="269.74" r="3.0" fill="#173b64"/>
<line x1="427.45" y1="267.34" x2="427.45" y2="272.14" stroke="#b2c4d8" stroke-width="1.4"/>
<circle cx="463.40" cy="262.34" r="3.0" fill="#173b64"/>
<line x1="463.40" y1="259.94" x2="463.40" y2="264.74" stroke="#b2c4d8" stroke-width="1.4"/>
<circle cx="499.35" cy="261.23" r="3.0" fill="#173b64"/>
<line x1="499.35" y1="258.83" x2="499.35" y2="263.63" stroke="#b2c4d8" stroke-width="1.4"/>
<line x1="302.00" y1="261.60" x2="516.90" y2="261.60" stroke="#c0566f" stroke-width="1.75"/>
<line x1="302.00" y1="203.00" x2="302.00" y2="298.60" stroke="#363636" stroke-width="1.6"/>
<text x="326.47" y="287.60" font-size="8.4" text-anchor="start" font-weight="normal" font-style="italic" fill="#b83d5d" stroke="#b83d5d" stroke-width="0.08" textLength="15.20" lengthAdjust="spacingAndGlyphs">0.53</text>
<text x="363.66" y="285.60" font-size="8.4" text-anchor="start" font-weight="normal" font-style="italic" fill="#b83d5d" stroke="#b83d5d" stroke-width="0.08" textLength="15.59" lengthAdjust="spacingAndGlyphs">0.58</text>
<text x="401.08" y="284.40" font-size="8.4" text-anchor="start" font-weight="normal" font-style="italic" fill="#b83d5d" stroke="#b83d5d" stroke-width="0.08" textLength="14.58" lengthAdjust="spacingAndGlyphs">0.63</text>
<text x="437.07" y="278.00" font-size="8.4" text-anchor="start" font-weight="normal" font-style="italic" fill="#b83d5d" stroke="#b83d5d" stroke-width="0.08" textLength="14.98" lengthAdjust="spacingAndGlyphs">0.78</text>
<text x="470.45" y="272.20" font-size="8.4" text-anchor="start" font-weight="normal" font-style="italic" fill="#b83d5d" stroke="#b83d5d" stroke-width="0.08" textLength="15.90" lengthAdjust="spacingAndGlyphs">0.98</text>
<text x="503.21" y="257.50" font-size="8.4" text-anchor="start" font-weight="normal" font-style="italic" fill="#b83d5d" stroke="#b83d5d" stroke-width="0.08" textLength="14.51" lengthAdjust="spacingAndGlyphs">1.01</text>
<text x="312.16" y="309.40" font-size="8.4" text-anchor="start" font-weight="normal" font-style="normal" fill="#2a2a2a" stroke="#2a2a2a" stroke-width="0.1" textLength="15.80" lengthAdjust="spacingAndGlyphs">≤ 18</text>
<text x="348.15" y="309.40" font-size="8.4" text-anchor="start" font-weight="normal" font-style="normal" fill="#2a2a2a" stroke="#2a2a2a" stroke-width="0.1" textLength="16.09" lengthAdjust="spacingAndGlyphs">≤ 24</text>
<text x="383.58" y="309.40" font-size="8.4" text-anchor="start" font-weight="normal" font-style="normal" fill="#2a2a2a" stroke="#2a2a2a" stroke-width="0.1" textLength="16.26" lengthAdjust="spacingAndGlyphs">26.4</text>
<text x="420.64" y="309.40" font-size="8.4" text-anchor="start" font-weight="normal" font-style="normal" fill="#2a2a2a" stroke="#2a2a2a" stroke-width="0.1" textLength="17.11" lengthAdjust="spacingAndGlyphs">≤ 30</text>
<text x="456.64" y="309.40" font-size="8.4" text-anchor="start" font-weight="normal" font-style="normal" fill="#2a2a2a" stroke="#2a2a2a" stroke-width="0.1" textLength="16.64" lengthAdjust="spacingAndGlyphs">≤ 36</text>
<text x="486.00" y="309.40" font-size="8.4" text-anchor="start" font-weight="normal" font-style="normal" fill="#2a2a2a" stroke="#2a2a2a" stroke-width="0.1" textLength="26.98" lengthAdjust="spacingAndGlyphs">Overall</text>
<text x="347.57" y="322.80" font-size="10.0" text-anchor="start" font-weight="normal" font-style="normal" fill="#2a2a2a" stroke="#2a2a2a" stroke-width="0.14" textLength="14.79" lengthAdjust="spacingAndGlyphs">VOC</text>
<text x="365.57" y="322.80" font-size="10.0" text-anchor="start" font-weight="normal" font-style="normal" fill="#2a2a2a" stroke="#2a2a2a" stroke-width="0.14" textLength="28.33" lengthAdjust="spacingAndGlyphs">duration</text>
<text x="397.69" y="322.80" font-size="10.0" text-anchor="start" font-weight="normal" font-style="normal" fill="#2a2a2a" stroke="#2a2a2a" stroke-width="0.14" textLength="22.25" lengthAdjust="spacingAndGlyphs">before</text>
<text x="422.78" y="322.80" font-size="10.0" text-anchor="start" font-weight="normal" font-style="normal" fill="#2a2a2a" stroke="#2a2a2a" stroke-width="0.14" textLength="37.06" lengthAdjust="spacingAndGlyphs">treatment,</text>
<text x="461.37" y="322.80" font-size="10.0" text-anchor="start" font-weight="normal" font-style="normal" fill="#2a2a2a" stroke="#2a2a2a" stroke-width="0.14" textLength="10.49" lengthAdjust="spacingAndGlyphs">hrs</text>
<g transform="translate(278.10,288.60) rotate(-90)"><text x="-0.26" y="0.00" font-size="10.0" text-anchor="start" font-weight="normal" font-style="normal" fill="#2a2a2a" stroke="#2a2a2a" stroke-width="0.12" textLength="30.24" lengthAdjust="spacingAndGlyphs">Medians</text>
<text x="31.45" y="0.00" font-size="10.0" text-anchor="start" font-weight="normal" font-style="normal" fill="#2a2a2a" stroke="#2a2a2a" stroke-width="0.12" textLength="18.71" lengthAdjust="spacingAndGlyphs">ratio,</text>
<text x="52.15" y="0.00" font-size="10.0" text-anchor="start" font-weight="normal" font-style="normal" fill="#2a2a2a" stroke="#2a2a2a" stroke-width="0.12" textLength="14.91" lengthAdjust="spacingAndGlyphs">95%</text>
<text x="69.91" y="0.00" font-size="10.0" text-anchor="start" font-weight="normal" font-style="normal" fill="#2a2a2a" stroke="#2a2a2a" stroke-width="0.12" textLength="6.76" lengthAdjust="spacingAndGlyphs">CI</text></g>
</svg></body></html>
